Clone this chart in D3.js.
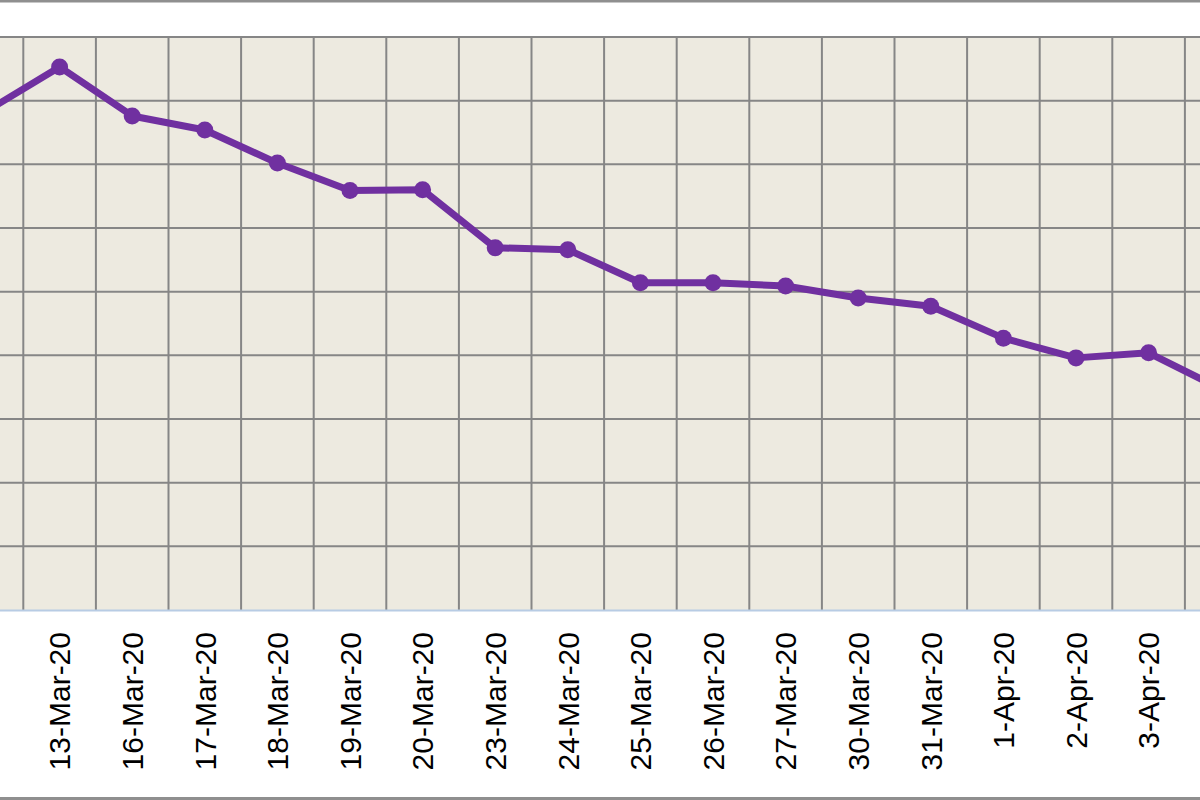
<!DOCTYPE html>
<html>
<head>
<meta charset="utf-8">
<script src="https://cdn.jsdelivr.net/npm/d3@7"></script>
<style>
  html, body { margin: 0; padding: 0; background: #ffffff; }
  svg { display: block; }
</style>
</head>
<body>
<script>
// ---- data (values in grid units; y axis lies outside the visible crop) ----
const categories = ["12-Mar-20","13-Mar-20","16-Mar-20","17-Mar-20","18-Mar-20","19-Mar-20",
  "20-Mar-20","23-Mar-20","24-Mar-20","25-Mar-20","26-Mar-20","27-Mar-20","30-Mar-20",
  "31-Mar-20","1-Apr-20","2-Apr-20","3-Apr-20","6-Apr-20"];
const values = [7.84, 8.53, 7.76, 7.54, 7.02, 6.59, 6.60, 5.69, 5.66, 5.14, 5.14, 5.09,
  4.90, 4.77, 4.27, 3.96, 4.04, 3.47];
const yTicks = [0, 1, 2, 3, 4, 5, 6, 7, 8, 9];
// labels visible in the crop (the 6-Apr label lies fully outside it)
const labelTicks = categories.slice(0, -1);

const W = 1200, H = 800;
const plotTop = 37, plotBottom = 610;
const bandW = 72.6;
const firstEdge = 23.3 - bandW;

const svg = d3.select("body").append("svg").attr("width", W).attr("height", H);

// outer frame (top & bottom edges visible)
svg.append("rect").attr("x", 0).attr("y", 0).attr("width", W).attr("height", H).attr("fill", "#ffffff");
svg.append("line").attr("x1", 0).attr("x2", W).attr("y1", 1).attr("y2", 1)
  .attr("stroke", "#8f8f8f").attr("stroke-width", 3);
svg.append("line").attr("x1", 0).attr("x2", W).attr("y1", 798.5).attr("y2", 798.5)
  .attr("stroke", "#8f8f8f").attr("stroke-width", 3);

const x = d3.scaleBand().domain(categories)
  .range([firstEdge, firstEdge + bandW * categories.length]).padding(0);
const y = d3.scaleLinear().domain([0, 9]).range([plotBottom, plotTop]);

// plot area
svg.append("rect").attr("x", firstEdge).attr("y", plotTop)
  .attr("width", bandW * categories.length).attr("height", plotBottom - plotTop)
  .attr("fill", "#EDEAE0");

// horizontal grid
svg.append("g").selectAll("line").data(yTicks.slice(1)).join("line")
  .attr("x1", firstEdge).attr("x2", firstEdge + bandW * categories.length)
  .attr("y1", d => y(d)).attr("y2", d => y(d))
  .attr("stroke", "#868686").attr("stroke-width", 2);

// vertical grid at band boundaries
svg.append("g").selectAll("line").data(categories).join("line")
  .attr("x1", d => x(d) + x.bandwidth()).attr("x2", d => x(d) + x.bandwidth())
  .attr("y1", plotTop).attr("y2", plotBottom)
  .attr("stroke", "#868686").attr("stroke-width", 2);

// bottom axis line
svg.append("line").attr("x1", 0).attr("x2", W).attr("y1", plotBottom + 0.5).attr("y2", plotBottom + 0.5)
  .attr("stroke", "#b8cce4").attr("stroke-width", 2);

// x-axis labels
const xAxis = d3.axisBottom(x).tickValues(labelTicks).tickSize(0).tickPadding(0);
const gx = svg.append("g").attr("transform", `translate(0,${plotBottom})`).call(xAxis);
gx.select(".domain").remove();
gx.selectAll("text")
  .attr("transform", "translate(0,22) rotate(-90)")
  .attr("x", 0).attr("y", 0).attr("dy", "0.36em")
  .attr("text-anchor", "end")
  .attr("fill", (d, i) => i === 0 ? "#4cc8e6" : "#000000")
  .style("font-family", "Arial, 'Liberation Sans', sans-serif")
  .style("font-size", "30px");

// line + markers
const cx = d => x(d) + x.bandwidth() / 2;
const pts = categories.map((c, i) => [cx(c), y(values[i])]);
svg.append("path").datum(pts)
  .attr("d", d3.line())
  .attr("fill", "none").attr("stroke", "#7030A0").attr("stroke-width", 7)
  .attr("stroke-linejoin", "round");
svg.append("g").selectAll("circle").data(pts).join("circle")
  .attr("cx", d => d[0]).attr("cy", d => d[1]).attr("r", 8.5)
  .attr("fill", "#7030A0");
</script>
</body>
</html>
